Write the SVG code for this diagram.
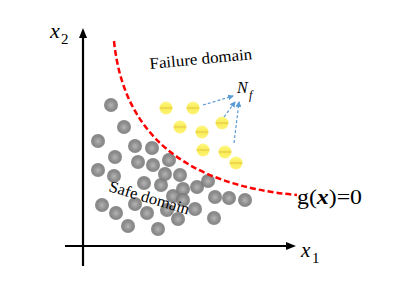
<svg xmlns="http://www.w3.org/2000/svg" width="399" height="282" viewBox="0 0 399 282">
<style>
.g{fill:url(#gg)}
.y{fill:url(#yg)}
.t{font-family:"Liberation Serif","Times New Roman",serif;fill:#000}
.ax{stroke:#000;stroke-width:2.2;fill:none}
.bl{stroke:#5b9bd5;stroke-width:1.2;stroke-dasharray:3 2;fill:none}
</style>
<defs>
<radialGradient id="gg" cx="50%" cy="52%" r="55%">
<stop offset="0" stop-color="#b4b4b4"/>
<stop offset="0.6" stop-color="#8c8c8c"/>
<stop offset="1" stop-color="#6c6c6c" stop-opacity="0.8"/>
</radialGradient>
<linearGradient id="yg" x1="0" y1="0" x2="0" y2="1">
<stop offset="0" stop-color="#fff78a"/>
<stop offset="0.42" stop-color="#f8ee58"/>
<stop offset="0.5" stop-color="#e6c24a"/>
<stop offset="0.58" stop-color="#f8ee58"/>
<stop offset="1" stop-color="#fff37a"/>
</linearGradient>
<marker id="ba" markerWidth="6" markerHeight="6" refX="5" refY="3" orient="auto" markerUnits="userSpaceOnUse">
<path d="M0,0 L6,3 L0,6 z" fill="#5b9bd5"/>
</marker>
<filter id="soft" x="-20%" y="-20%" width="140%" height="140%"><feGaussianBlur stdDeviation="0.5"/></filter>
</defs>

<g id="axes">
<line class="ax" x1="83" y1="266" x2="83" y2="36"/>
<path d="M83,28 L79,38 L87,38 z" fill="#000"/>
<line class="ax" x1="65" y1="246" x2="287" y2="246"/>
<path d="M296,246 L286,242 L286,250 z" fill="#000"/>
<text class="t" x="50" y="38" font-size="22" font-style="italic">x</text>
<text class="t" x="61" y="44" font-size="15">2</text>
<text class="t" x="301" y="257" font-size="21" font-style="italic">x</text>
<text class="t" x="312" y="263" font-size="15">1</text>
</g>

<g id="safe-samples" filter="url(#soft)">
<circle class="g" cx="111" cy="105" r="7"/>
<circle class="g" cx="124" cy="127" r="7"/>
<circle class="g" cx="98" cy="141" r="7"/>
<circle class="g" cx="135" cy="146" r="7"/>
<circle class="g" cx="152" cy="148" r="7"/>
<circle class="g" cx="115" cy="157" r="7"/>
<circle class="g" cx="138" cy="162" r="7"/>
<circle class="g" cx="153" cy="165" r="7"/>
<circle class="g" cx="169" cy="160" r="7"/>
<circle class="g" cx="98" cy="170" r="7"/>
<circle class="g" cx="114" cy="176" r="7"/>
<circle class="g" cx="144" cy="183" r="7"/>
<circle class="g" cx="161" cy="185" r="7"/>
<circle class="g" cx="165" cy="174" r="7"/>
<circle class="g" cx="180" cy="175" r="7"/>
<circle class="g" cx="173" cy="196" r="7"/>
<circle class="g" cx="183" cy="189" r="7"/>
<circle class="g" cx="183" cy="200" r="7"/>
<circle class="g" cx="197" cy="187" r="7"/>
<circle class="g" cx="208" cy="181" r="7"/>
<circle class="g" cx="215" cy="197" r="7"/>
<circle class="g" cx="229" cy="198" r="7"/>
<circle class="g" cx="245" cy="200" r="7"/>
<circle class="g" cx="195" cy="209" r="7"/>
<circle class="g" cx="178" cy="219" r="7"/>
<circle class="g" cx="214" cy="218" r="7"/>
<circle class="g" cx="135" cy="204" r="7"/>
<circle class="g" cx="102" cy="205" r="7"/>
<circle class="g" cx="116" cy="213" r="7"/>
<circle class="g" cx="147" cy="213" r="7"/>
<circle class="g" cx="128" cy="226" r="7"/>
<circle class="g" cx="158" cy="229" r="7"/>
<circle class="g" cx="167" cy="210" r="7"/>
</g>

<g id="limit-state">
<path d="M114,41 Q128,180 297,195" fill="none" stroke="#ff0000" stroke-width="2.5" stroke-dasharray="6 3"/>
<text class="t" x="297" y="204" font-size="21" textLength="65" lengthAdjust="spacingAndGlyphs">g(<tspan font-weight="bold" font-style="italic">x</tspan>)=0</text>
</g>

<g id="failure-samples" filter="url(#soft)">
<circle class="y" cx="166" cy="108" r="6.5"/>
<circle class="y" cx="193" cy="108" r="6.5"/>
<circle class="y" cx="180" cy="127" r="6.5"/>
<circle class="y" cx="222" cy="123" r="6.5"/>
<circle class="y" cx="202" cy="132" r="6.5"/>
<circle class="y" cx="203" cy="150" r="6.5"/>
<circle class="y" cx="225" cy="152" r="6.5"/>
<circle class="y" cx="236" cy="163" r="6.5"/>
</g>

<g id="connectors">
<line class="bl" x1="203" y1="105" x2="233" y2="96" marker-end="url(#ba)"/>
<line class="bl" x1="224" y1="117" x2="235" y2="102" marker-end="url(#ba)"/>
<line class="bl" x1="234" y1="143" x2="239" y2="102" marker-end="url(#ba)"/>
</g>

<g id="labels">
<text class="t" font-size="16" transform="translate(150,69) rotate(-5.5)" textLength="103" lengthAdjust="spacingAndGlyphs">Failure domain</text>
<text class="t" font-size="16" transform="translate(108,191) rotate(16.5)" textLength="83" lengthAdjust="spacingAndGlyphs">Safe domain</text>
<text class="t" x="237" y="93" font-size="16" font-style="italic">N</text>
<text class="t" x="249" y="99" font-size="12" font-style="italic">f</text>
</g>
</svg>
